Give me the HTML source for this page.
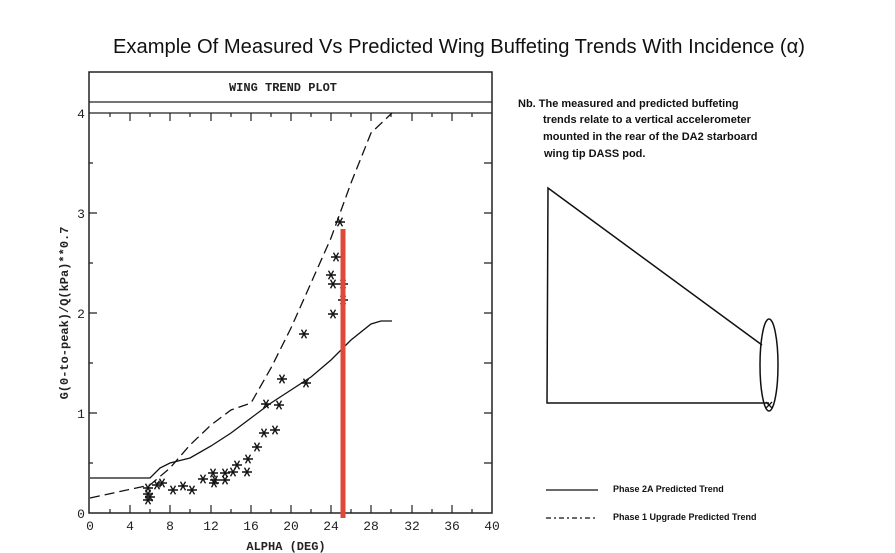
<!DOCTYPE html>
<html><head><style>
body{margin:0;background:#fff;}
svg{display:block;}
</style></head><body>
<svg width="895" height="553" viewBox="0 0 895 553" xmlns="http://www.w3.org/2000/svg">
<defs>
<g id="s"><path d="M-5 0H5M-2.5 -4.3L2.5 4.3M-2.5 4.3L2.5 -4.3" stroke="#111" stroke-width="1.4" fill="none"/></g>
</defs>
<rect width="895" height="553" fill="#fff"/>
<text x="459" y="53" font-family="Liberation Sans, sans-serif" font-size="20" text-anchor="middle" fill="#111" textLength="692" lengthAdjust="spacingAndGlyphs">Example Of Measured Vs Predicted Wing Buffeting Trends With Incidence (α)</text>
<rect x="89" y="72" width="403" height="441" fill="none" stroke="#222" stroke-width="1.5"/>
<line x1="89" y1="102" x2="492" y2="102" stroke="#222" stroke-width="1.3"/>
<line x1="89" y1="113" x2="492" y2="113" stroke="#222" stroke-width="1.3"/>
<text x="283" y="91" font-family="Liberation Mono, monospace" font-size="12" font-weight="bold" text-anchor="middle" fill="#222">WING TREND PLOT</text>
<g stroke="#222" stroke-width="1.2">
<path d="M130 513v-8M170 513v-8M211 513v-8M251 513v-8M291 513v-8M331 513v-8M371 513v-8M412 513v-8M452 513v-8
M110 513v-4M150 513v-4M190 513v-4M231 513v-4M271 513v-4M311 513v-4M351 513v-4M391 513v-4M432 513v-4M472 513v-4
M130 113v8M170 113v8M211 113v8M251 113v8M291 113v8M331 113v8M371 113v8M412 113v8M452 113v8
M110 113v4M150 113v4M190 113v4M231 113v4M271 113v4M311 113v4M351 113v4M391 113v4M432 113v4M472 113v4
M89 413h8M89 313h8M89 213h8M89 463h4M89 363h4M89 263h4M89 163h4
M492 413h-8M492 313h-8M492 213h-8M492 463h-8M492 363h-8M492 263h-8M492 163h-8"/>
</g>
<g font-family="Liberation Mono, monospace" font-size="13" fill="#222" text-anchor="middle">
<text x="90" y="530">0</text><text x="130" y="530">4</text><text x="170" y="530">8</text><text x="211" y="530">12</text><text x="251" y="530">16</text><text x="291" y="530">20</text><text x="331" y="530">24</text><text x="371" y="530">28</text><text x="412" y="530">32</text><text x="452" y="530">36</text><text x="492" y="530">40</text>
<text x="81" y="518">0</text><text x="81" y="418">1</text><text x="81" y="318">2</text><text x="81" y="218">3</text><text x="81" y="118">4</text>
<text x="286" y="550" font-size="12" font-weight="bold">ALPHA (DEG)</text>
<text transform="translate(68,313) rotate(-90)" font-size="12" font-weight="bold">G(0-to-peak)/Q(kPa)**0.7</text>
</g>
<polyline fill="none" stroke="#111" stroke-width="1.3" points="90,478 150,478 160,468 170,463 190,458 211,446 231,433 251,418 271,403 291,390 311,377 331,360 351,340 371,324 381,321 392,321"/>
<polyline fill="none" stroke="#111" stroke-width="1.3" stroke-dasharray="10,5" points="90,498 150,485 170,468 190,445 211,425 231,410 251,403 271,368 291,328 311,283 331,238 351,183 371,133 392,113"/>
<g>
<use href="#s" x="148" y="494"/><use href="#s" x="148" y="500"/><use href="#s" x="148" y="488"/><use href="#s" x="150" y="497"/><use href="#s" x="157" y="485"/><use href="#s" x="162" y="483"/><use href="#s" x="173" y="490"/><use href="#s" x="183" y="486"/><use href="#s" x="192" y="490"/><use href="#s" x="203" y="479"/><use href="#s" x="213" y="473"/><use href="#s" x="215" y="480"/><use href="#s" x="214" y="483"/><use href="#s" x="225" y="473"/><use href="#s" x="225" y="480"/><use href="#s" x="233" y="472"/><use href="#s" x="237" y="465"/><use href="#s" x="247" y="472"/><use href="#s" x="248" y="459"/><use href="#s" x="257" y="447"/><use href="#s" x="264" y="433"/><use href="#s" x="275" y="430"/><use href="#s" x="266" y="404"/><use href="#s" x="279" y="405"/><use href="#s" x="282" y="379"/><use href="#s" x="306" y="383"/><use href="#s" x="304" y="334"/><use href="#s" x="333" y="314"/><use href="#s" x="340" y="222"/><use href="#s" x="336" y="257"/><use href="#s" x="331" y="275"/><use href="#s" x="333" y="284"/><use href="#s" x="343" y="284"/><use href="#s" x="343" y="300"/>
</g>
<line x1="343" y1="229" x2="343" y2="518" stroke="#e0483a" stroke-width="5"/>
<g font-family="Liberation Sans, sans-serif" font-size="11" font-weight="bold" fill="#111">
<text x="518" y="107">Nb. The measured and predicted buffeting</text>
<text x="543" y="123">trends relate to a vertical  accelerometer</text>
<text x="543" y="140">mounted in the rear of the DA2 starboard</text>
<text x="544" y="157">wing tip DASS pod.</text>
</g>
<polyline fill="none" stroke="#111" stroke-width="1.5" points="762,345 548,188 547,403 769,403"/>
<ellipse cx="769" cy="365" rx="9" ry="46" fill="none" stroke="#111" stroke-width="1.5"/>
<path d="M766 402l6 6M772 402l-6 6" stroke="#111" stroke-width="1.3"/>
<line x1="546" y1="490" x2="598" y2="490" stroke="#111" stroke-width="1.3"/>
<line x1="546" y1="518" x2="598" y2="518" stroke="#111" stroke-width="1.3" stroke-dasharray="5,3,2,3"/>
<g font-family="Liberation Sans, sans-serif" font-size="9" font-weight="bold" fill="#111">
<text x="613" y="492">Phase 2A Predicted Trend</text>
<text x="613" y="520">Phase 1 Upgrade Predicted Trend</text>
</g>
</svg>
</body></html>
